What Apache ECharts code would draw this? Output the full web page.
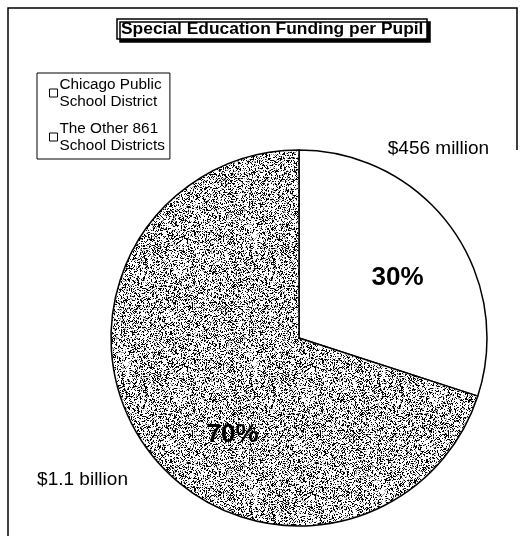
<!DOCTYPE html>
<html>
<head>
<meta charset="utf-8">
<script src="https://cdn.jsdelivr.net/npm/echarts@6/dist/echarts.min.js"></script>
<style>
  html, body { margin: 0; padding: 0; background: #fff; }
  #chart { width: 524px; height: 536px; }
</style>
</head>
<body>
<div id="chart"></div>
<script>
// data
var categories = ['Chicago Public\nSchool District', 'The Other 861\nSchool Districts'];
var shares = [30, 70];
var amounts = ['$456 million', '$1.1 billion'];

// stippled grey fill, deterministic noise
function stipple() {
  var c = document.createElement('canvas');
  c.width = 128; c.height = 128;
  var ctx = c.getContext('2d');
  ctx.fillStyle = '#fff';
  ctx.fillRect(0, 0, 128, 128);
  var s = 12345;
  for (var y = 0; y < 128; y++) {
    for (var x = 0; x < 128; x++) {
      s = (s * 1103515245 + 12345) & 0x7fffffff;
      var r = (s >> 8) / 8388608;
      if (r < 0.27) { ctx.fillStyle = '#000'; ctx.fillRect(x, y, 1, 1); }
      else if (r < 0.37) { ctx.fillStyle = '#999'; ctx.fillRect(x, y, 1, 1); }
    }
  }
  return c;
}

var fills = ['#ffffff', { image: stipple(), repeat: 'repeat' }];
var pctOffsets = [[20, -3], [12, 40]];
var amtOffsets = [[61, -132], [-138, 85]];

var chart = echarts.init(document.getElementById('chart'));

var mainData = shares.map(function (v, i) {
  return {
    name: categories[i],
    value: v,
    itemStyle: { color: fills[i] },
    label: { offset: pctOffsets[i] }
  };
});
var amtData = shares.map(function (v, i) {
  return {
    name: categories[i],
    value: v,
    label: { formatter: amounts[i], offset: amtOffsets[i] }
  };
});

var option = {
  backgroundColor: '#fff',
  animation: false,
  title: {
    text: 'Special Education Funding per Pupil',
    left: 117,
    top: 19,
    padding: [2, 4, 1, 4],
    borderColor: '#000',
    borderWidth: 1.5,
    backgroundColor: '#fff',
    shadowColor: '#000',
    shadowOffsetX: 3,
    shadowOffsetY: 3,
    shadowBlur: 0.1,
    textStyle: { fontFamily: 'Arial, Liberation Sans', fontSize: 17.4, fontWeight: 'bold', color: '#000' }
  },
  legend: {
    orient: 'vertical',
    left: 37,
    top: 73,
    padding: [3, 5, 5, 12],
    itemGap: 10,
    itemWidth: 8,
    itemHeight: 8,
    borderColor: '#000',
    borderWidth: 1,
    icon: 'rect',
    selectedMode: false,
    data: categories.map(function (c) {
      return { name: c, itemStyle: { color: '#fff', borderColor: '#000', borderWidth: 1 } };
    }),
    textStyle: { fontFamily: 'Arial, Liberation Sans', fontSize: 15.3, color: '#000', lineHeight: 17, padding: [0, 0, 0, -3] }
  },
  graphic: [
    {
      type: 'polyline',
      silent: true,
      shape: { points: [[8, 536], [8, 8], [517, 8], [517, 150]] },
      style: { stroke: '#000', lineWidth: 1.5, fill: null }
    }
  ],
  series: [
    {
      type: 'pie',
      center: [299, 338],
      radius: 188,
      startAngle: 90,
      clockwise: true,
      silent: true,
      itemStyle: { borderColor: '#000', borderWidth: 1.5 },
      label: {
        position: 'inner',
        formatter: '{c}%',
        fontFamily: 'Arial, Liberation Sans',
        fontSize: 26,
        fontWeight: 'bold',
        color: '#000'
      },
      labelLine: { show: false },
      data: mainData
    },
    {
      type: 'pie',
      center: [299, 338],
      radius: 188,
      startAngle: 90,
      clockwise: true,
      silent: true,
      itemStyle: { color: 'rgba(0,0,0,0)', borderWidth: 0 },
      label: {
        position: 'inner',
        fontFamily: 'Arial, Liberation Sans',
        fontSize: 19,
        color: '#000'
      },
      labelLine: { show: false },
      legendHoverLink: false,
      data: amtData
    }
  ]
};

chart.setOption(option);
</script>
</body>
</html>
